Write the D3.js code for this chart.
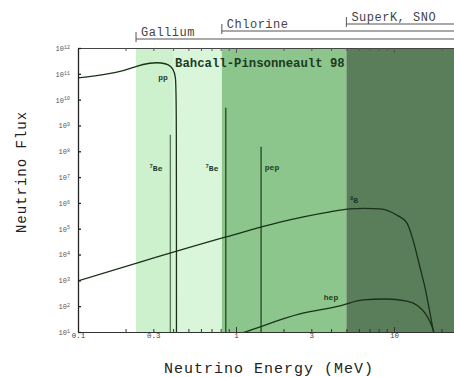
<!DOCTYPE html>
<html>
<head>
<meta charset="utf-8">
<script src="https://cdn.jsdelivr.net/npm/d3@7"></script>
<style>
  body { margin: 0; background: #fff; }
  svg { display: block; }
  text { font-family: "Liberation Mono", "DejaVu Sans Mono", monospace; fill: #222; }
</style>
</head>
<body>
<svg id="chart"></svg>
<script>
// energies in MeV, flux in cm^-2 s^-1 (per MeV for continua)
var ppE    = [0.1, 0.185, 0.233, 0.286, 0.34, 0.375, 0.40, 0.415, 0.42, 0.42];
var ppF    = [6.9e10, 1.12e11, 2.0e11, 2.7e11, 2.7e11, 2.3e11, 1.6e11, 7.9e10, 2.0e10, 5];

var b8E    = [0.1, 0.247, 0.865, 1.9, 3.94, 5.27, 6.5, 8.15, 10.4, 12.1, 13.2, 14.6, 15.7, 16.9, 17.7, 18.2];
var b8F    = [9.5e2, 5.1e3, 4.8e4, 1.8e5, 4.5e5, 5.9e5, 6.1e5, 5.9e5, 3.4e5, 1.66e5, 3.7e4, 3.3e3, 5.5e2, 55, 12, 5];

var hepE   = [1.0, 1.14, 2.54, 4.55, 6.37, 8.77, 12.1, 14.2, 15.7, 16.9, 17.9, 18.3];
var hepF   = [7.7, 10, 50, 102, 174, 190, 158, 102, 55, 25, 10, 6];

var lineNames = ["7Be", "7Be", "pep"];
var lineE     = [0.384, 0.862, 1.442];
var lineF     = [4.4e8, 4.8e9, 1.5e8];

var detectors  = ["Gallium", "Chlorine", "SuperK, SNO"];
var thresholds = [0.233, 0.814, 5.0];

var xMajor = [0.1, 0.3, 1, 3, 10];
var yDecades = [1, 2, 3, 4, 5, 6, 7, 8, 9, 10, 11, 12];

var W = 454, H = 377;
var pLeft = 78, pTop = 48, pBottom = 332, pRight = 454;

var svg = d3.select("#chart").attr("width", W).attr("height", H);

var x = d3.scaleLog().domain([0.1, 24]).range([pLeft, pRight]);
var y = d3.scaleLog().domain([10, 1e12]).range([pBottom, pTop]);

svg.append("clipPath").attr("id", "plot")
  .append("rect").attr("x", pLeft).attr("y", pTop).attr("width", pRight - pLeft).attr("height", pBottom - pTop);

// detector bands
var bandColors = ["#daf6da", "#8cc68c", "#5a7d5a"];
var g = svg.append("g").attr("clip-path", "url(#plot)");
thresholds.forEach(function(t, i) {
  var next = i < thresholds.length - 1 ? thresholds[i + 1] : 24;
  g.append("rect")
    .attr("x", x(t)).attr("y", pTop)
    .attr("width", x(next) - x(t)).attr("height", pBottom - pTop)
    .attr("fill", bandColors[i]);
});
// slightly deeper tint under the pp spectrum
g.append("rect")
  .attr("x", x(0.233)).attr("y", pTop)
  .attr("width", x(0.40) - x(0.233)).attr("height", pBottom - pTop)
  .attr("fill", "#cdf0cd");

// line sources
lineE.forEach(function(e, i) {
  g.append("line")
    .attr("x1", x(e)).attr("x2", x(e))
    .attr("y1", y(lineF[i])).attr("y2", pBottom)
    .attr("stroke", i == 0 ? "#4f6f4f" : "#1e3a1e")
    .attr("stroke-width", 1.2);
});

// continuum spectra
var smooth = d3.line()
  .x(function(d) { return x(d[0]); })
  .y(function(d) { return y(d[1]); })
  .curve(d3.curveMonotoneX);
var rounded = d3.line()
  .x(function(d) { return x(d[0]); })
  .y(function(d) { return y(d[1]); })
  .curve(d3.curveBasis);

[[ppE, ppF], [b8E, b8F], [hepE, hepF]].forEach(function(s, i) {
  var pts = s[0].map(function(e, j) { return [e, s[1][j]]; });
  g.append("path")
    .attr("d", i == 0 ? rounded(pts) : smooth(pts))
    .attr("fill", "none")
    .attr("stroke", "#1b301b")
    .attr("stroke-width", 1.3);
});

// axes
var minors = [];
[0.1, 1, 10].forEach(function(d) {
  for (var k = 1; k < 10; k++) if (d * k <= 24) minors.push(+(d * k).toPrecision(2));
});
var isMajor = function(d) { return [0.1, 1, 10].indexOf(d) >= 0; };

var xb = svg.append("g")
  .attr("transform", "translate(0," + pBottom + ")")
  .call(d3.axisBottom(x).tickValues(minors).tickSizeOuter(0)
    .tickSize(0).tickFormat(function(d) { return xMajor.indexOf(d) >= 0 ? String(d) : ""; }));
xb.select(".domain").attr("stroke", "#333");
xb.selectAll(".tick text").attr("dy", "0.45em").style("font-size", "7.5px").style("fill", "#444");
xb.selectAll(".tick").append("line")
  .attr("y2", function(d) { return isMajor(d) ? -5 : -3; })
  .attr("stroke", "#333");

var xt = svg.append("g")
  .attr("transform", "translate(0," + pTop + ")")
  .call(d3.axisTop(x).tickValues(minors).tickSize(0).tickSizeOuter(0).tickFormat(""));
xt.select(".domain").attr("stroke", "#444");
xt.selectAll(".tick").append("line")
  .attr("y2", function(d) { return isMajor(d) ? 5 : 3; })
  .attr("stroke", "#555");

var ya = svg.append("g")
  .attr("transform", "translate(" + pLeft + ",0)")
  .call(d3.axisLeft(y).tickValues(yDecades.map(function(p) { return Math.pow(10, p); }))
    .tickSize(0).tickSizeOuter(0).tickFormat(""));
ya.select(".domain").attr("stroke", "#222").attr("stroke-width", 1.3);
ya.selectAll(".tick").append("line").attr("x2", 3).attr("stroke", "#222").attr("stroke-width", 1.3);
ya.selectAll(".tick").each(function(d, i) {
  var t = d3.select(this).append("text")
    .attr("x", -8).attr("dy", "0.35em")
    .attr("text-anchor", "end")
    .style("font-size", "7px").style("fill", "#555");
  t.append("tspan").text("10");
  t.append("tspan").attr("dy", "-0.45em").style("font-size", "5px").text(yDecades[i]);
});

// detector brackets above the plot
var bracketY = [39, 31, 24];
detectors.forEach(function(name, i) {
  var bx = x(thresholds[i]);
  svg.append("line").attr("x1", bx).attr("x2", pRight).attr("y1", bracketY[i]).attr("y2", bracketY[i])
    .attr("stroke", "#555").attr("stroke-width", 1);
  svg.append("line").attr("x1", bx).attr("x2", bx).attr("y1", bracketY[i] - 7).attr("y2", bracketY[i] + 3)
    .attr("stroke", "#555").attr("stroke-width", 1);
  svg.append("text").attr("x", bx + 5).attr("y", bracketY[i] - 3)
    .style("font-size", "12px").style("letter-spacing", "0.5px").style("fill", "#444")
    .text(name);
});

// labels inside the plot
svg.append("text").attr("x", 175).attr("y", 67)
  .style("font-size", "12.3px").style("font-weight", "bold").style("fill", "#1e3a1e")
  .text("Bahcall-Pinsonneault 98");

function label(tx, ty, main, sup) {
  var t = svg.append("text").attr("x", tx).attr("y", ty).attr("text-anchor", "middle")
    .style("font-size", "8px").style("font-weight", "bold").style("fill", "#1e3a1e");
  if (sup) t.append("tspan").attr("dy", "-0.35em").style("font-size", "5.5px").text(sup);
  t.append("tspan").attr("dy", sup ? "0.35em" : 0).text(main);
}
label(163, 80, "pp");
label(156, 170, "Be", "7");
label(212, 170, "Be", "7");
label(272, 170, "pep");
label(354, 202, "B", "8");
label(331, 300, "hep");

// axis titles
svg.append("text").attr("x", 269).attr("y", 373).attr("text-anchor", "middle")
  .style("font-size", "15px").style("letter-spacing", "1px")
  .text("Neutrino Energy (MeV)");
svg.append("text")
  .attr("transform", "translate(26,172) rotate(-90)")
  .attr("text-anchor", "middle")
  .style("font-size", "14px").style("letter-spacing", "1px")
  .text("Neutrino Flux");
</script>
</body>
</html>
